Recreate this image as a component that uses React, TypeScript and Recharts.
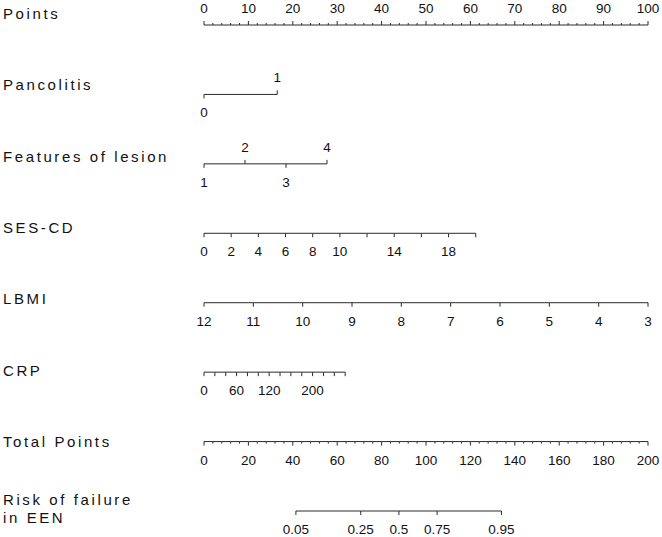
import { ComposedChart, Scatter, XAxis, YAxis } from 'recharts';

// row titles on the left
const rowTitles = ['Points', 'Pancolitis', 'Features of lesion', 'SES-CD', 'LBMI', 'CRP', 'Total Points', 'Risk of failure\nin EEN'];

// Points scale
const pointTicks = Array.from({ length: 51 }, (_, i) => i * 2);
const pointLabels = [0, 10, 20, 30, 40, 50, 60, 70, 80, 90, 100];

// Pancolitis: 1 = 16.5 points
const pancolitisTicks = [0, 1];
const pancolitisAbove = [1];
const pancolitisMaxPoints = 16.5;

// Features of lesion: 4 = 27.7 points
const lesionTicks = [1, 2, 3, 4];
const lesionAbove = [2, 4];
const lesionMaxPoints = 27.7;

// SES-CD: 20 = 61.2 points
const sesTicks = [0, 2, 4, 6, 8, 10, 12, 14, 16, 18, 20];
const sesLabels = [0, 2, 4, 6, 8, 10, 14, 18];
const sesMaxPoints = 61.2;

// LBMI: 12 -> 0 points, 3 -> 100 points
const lbmiTicks = [12, 11, 10, 9, 8, 7, 6, 5, 4, 3];

// CRP: 260 = 31.8 points
const crpTicks = [0, 20, 40, 60, 80, 100, 120, 140, 160, 180, 200, 220, 240, 260];
const crpLabels = [0, 60, 120, 200];
const crpMaxPoints = 31.8;

// Total points
const totalTicks = Array.from({ length: 51 }, (_, i) => i * 4);
const totalLabels = [0, 20, 40, 60, 80, 100, 120, 140, 160, 180, 200];

// Risk of failure vs total points
const riskLabels = ['0.05', '0.25', '0.5', '0.75', '0.95'];
const riskTotalPoints = [41.4, 70.6, 87.8, 105, 134];

const LINE = '#2a2a2a';
const FONT = '"Liberation Sans", Arial, Helvetica, sans-serif';

type Tick = { x: number; y: number; label?: string; above?: boolean; major?: boolean };

const TickShape = (props: any) => {
  const { cx, cy, payload } = props;
  const p = payload as Tick;
  const len = p.major === false ? 2 : 4;
  const dir = p.above ? -1 : 1;
  return (
    <g>
      <line x1={cx} x2={cx} y1={cy} y2={cy + dir * len} stroke={LINE} strokeWidth={1} />
      {p.label !== undefined && (
        <text
          x={cx}
          y={p.above ? cy - 12 : cy + 23}
          textAnchor="middle"
          fontSize={13.5}
          fontFamily={FONT}
          fill="#111"
        >
          {p.label}
        </text>
      )}
    </g>
  );
};

const pointsRow: Tick[] = pointTicks.map((v) => ({
  x: v, y: 0, above: true, major: pointLabels.includes(v),
  label: pointLabels.includes(v) ? String(v) : undefined,
}));
const pancolitisRow: Tick[] = pancolitisTicks.map((v) => ({
  x: v, y: 1, label: String(v), above: pancolitisAbove.includes(v),
}));
const lesionRow: Tick[] = lesionTicks.map((v) => ({
  x: v, y: 2, label: String(v), above: lesionAbove.includes(v),
}));
const sesRow: Tick[] = sesTicks.map((v) => ({
  x: v, y: 3, label: sesLabels.includes(v) ? String(v) : undefined,
}));
const lbmiRow: Tick[] = lbmiTicks.map((v) => ({ x: v, y: 4, label: String(v) }));
const crpRow: Tick[] = crpTicks.map((v) => ({
  x: v, y: 5, label: crpLabels.includes(v) ? String(v) : undefined,
}));
const totalRow: Tick[] = totalTicks.map((v) => ({
  x: v, y: 6, major: totalLabels.includes(v),
  label: totalLabels.includes(v) ? String(v) : undefined,
}));
const riskRow: Tick[] = riskLabels.map((l, i) => ({ x: riskTotalPoints[i], y: 7, label: l }));

const rows = [
  { id: 'pts', data: pointsRow },
  { id: 'pan', data: pancolitisRow },
  { id: 'les', data: lesionRow },
  { id: 'ses', data: sesRow },
  { id: 'lbmi', data: lbmiRow },
  { id: 'crp', data: crpRow },
  { id: 'tot', data: totalRow },
  { id: 'tot', data: riskRow },
];

export default function App() {
  return (
    <div style={{ position: 'absolute', left: 0, top: 0, width: 662, height: 537, background: '#fff' }}>
      {rowTitles.map((t, i) => (
        <div
          key={t}
          style={{
            position: 'absolute',
            left: 3,
            top: (i === 7 ? 500 : 14 + i * 71.3) - 9,
            fontFamily: FONT,
            fontSize: 15,
            letterSpacing: '2.6px',
            lineHeight: '18px',
            color: '#111',
            whiteSpace: 'pre',
          }}
        >
          {t}
        </div>
      ))}
      <ComposedChart width={662} height={537} margin={{ top: 25, right: 14, bottom: 26, left: 204 }} style={{ overflow: 'visible' }}>
        <XAxis xAxisId="pts" type="number" dataKey="x" domain={[0, 100]} hide />
        <XAxis xAxisId="pan" type="number" dataKey="x" domain={[0, 100 / pancolitisMaxPoints]} hide />
        <XAxis xAxisId="les" type="number" dataKey="x" domain={[1, 1 + (3 * 100) / lesionMaxPoints]} hide />
        <XAxis xAxisId="ses" type="number" dataKey="x" domain={[0, (20 * 100) / sesMaxPoints]} hide />
        <XAxis xAxisId="lbmi" type="number" dataKey="x" domain={[3, 12]} reversed hide />
        <XAxis xAxisId="crp" type="number" dataKey="x" domain={[0, (260 * 100) / crpMaxPoints]} hide />
        <XAxis xAxisId="tot" type="number" dataKey="x" domain={[0, 200]} hide />
        <YAxis type="number" dataKey="y" domain={[0, 7]} reversed hide />
        {rows.map((r, i) => (
          <Scatter
            key={i}
            xAxisId={r.id}
            data={r.data}
            line={{ stroke: LINE, strokeWidth: 1 }}
            lineType="joint"
            shape={TickShape}
            isAnimationActive={false}
          />
        ))}
      </ComposedChart>
    </div>
  );
}
